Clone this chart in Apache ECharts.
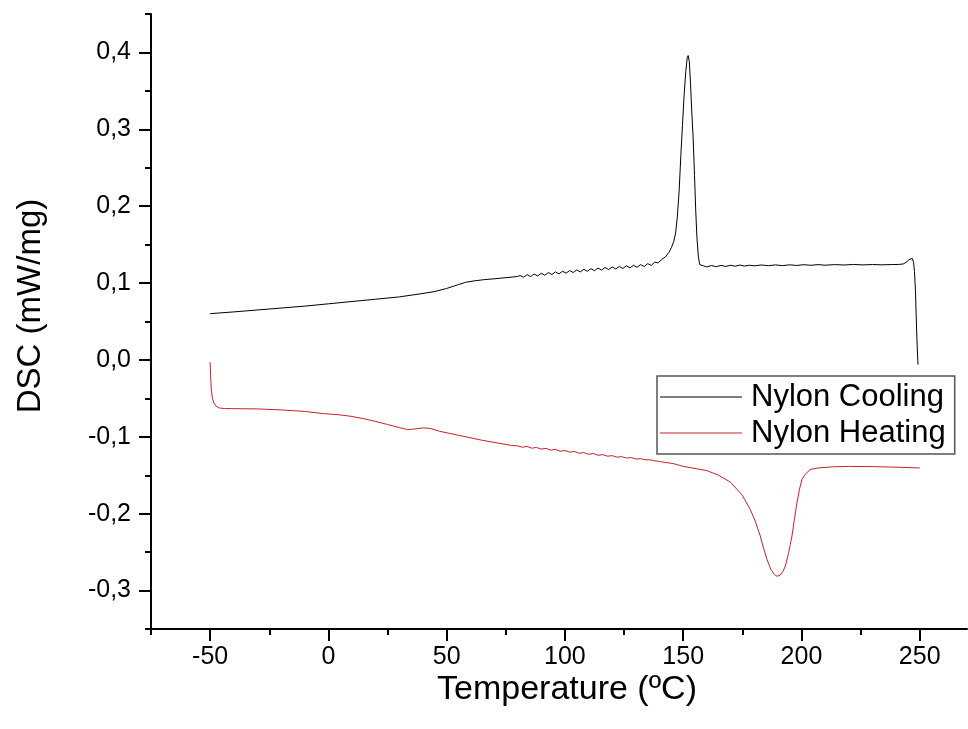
<!DOCTYPE html>
<html>
<head>
<meta charset="utf-8">
<title>Nylon DSC</title>
<script src="https://cdn.jsdelivr.net/npm/echarts@6/dist/echarts.min.js"></script>
<style>
  html, body { margin: 0; padding: 0; background: #fff; }
  #chart { width: 968px; height: 729px; }
</style>
</head>
<body>
<div id="chart"></div>
<script>
// Cooling run: temperature (°C) and heat flow (mW/mg)
const coolingT = [
  -50, -40, -30, -20, -10, 0, 10, 20, 30, 40, 45, 50, 55, 58, 62, 66, 70, 75, 80,
  81, 82.5, 84, 85.5, 87, 88.5, 90, 91.5, 93, 94.5, 96, 97.5, 99, 100.5, 102, 103.5,
  105, 106.5, 108, 109.5, 111, 112.5, 114, 115.5, 117, 118.5, 120, 121.5, 123, 124.5,
  126, 127.5, 129, 130.5, 132, 133.5, 135, 136.5, 138, 139.5, 141, 142.5, 144, 145,
  146, 146.8, 147.5, 148.3, 149, 149.7, 150.4, 151.1, 151.7, 152.1, 152.6, 153.1,
  153.6, 154.2, 154.8, 155.3, 155.8, 156.4, 157, 157.6, 158.5,
  160, 162, 164, 166, 168, 170, 172, 174, 176, 178, 180, 183, 186, 189, 192, 195,
  198, 201, 204, 207, 210, 214, 218, 222, 226, 230, 234, 238, 241, 243,
  244.5, 245.5, 246.3, 246.9, 247.4, 247.8, 248.2, 248.5, 248.8, 249.1, 249.3
];
const coolingDSC = [
  0.0602, 0.0625, 0.0650, 0.0675, 0.0700, 0.0730, 0.0760, 0.0790, 0.0820, 0.0865, 0.0890, 0.0930, 0.0980, 0.1010, 0.1030, 0.1045, 0.1055, 0.1070, 0.1085,
  0.1098, 0.1075, 0.1109, 0.1084, 0.1118, 0.1093, 0.1127, 0.1102, 0.1136, 0.1111, 0.1145, 0.1120, 0.1154, 0.1129, 0.1163, 0.1137,
  0.1171, 0.1145, 0.1179, 0.1153, 0.1187, 0.1161, 0.1195, 0.1169, 0.1203, 0.1176, 0.1210, 0.1183, 0.1217, 0.1190,
  0.1224, 0.1197, 0.1231, 0.1205, 0.1240, 0.1215, 0.1252, 0.1230, 0.1272, 0.1262, 0.1310, 0.1340, 0.1400, 0.1460,
  0.1540, 0.1650, 0.1850, 0.2200, 0.2650, 0.3050, 0.3450, 0.3750, 0.3930, 0.3960, 0.3880, 0.3600,
  0.3250, 0.2900, 0.2400, 0.1950, 0.1600, 0.1350, 0.1240, 0.1215, 0.1225,
  0.1210, 0.1228, 0.1213, 0.1230, 0.1216, 0.1232, 0.1219, 0.1234, 0.1221, 0.1232, 0.1224, 0.1235, 0.1226, 0.1236, 0.1227, 0.1237,
  0.1229, 0.1239, 0.1231, 0.1240, 0.1232, 0.1240, 0.1235, 0.1242, 0.1236, 0.1241, 0.1237, 0.1241, 0.1242, 0.1248,
  0.1275, 0.1305, 0.1325, 0.1320, 0.1270, 0.1150, 0.0900, 0.0600, 0.0300, 0.0050, -0.0060
];

// Heating run: temperature (°C) and heat flow (mW/mg)
const heatingT = [
  -50, -49.8, -49.5, -49, -48.4, -47.5, -46.3, -44, -40, -30, -20, -10, -2, 5, 10, 15, 20, 25, 30,
  33.5, 36, 40, 43, 47, 55, 65, 77,
  80, 82, 84, 86, 88, 90, 92, 94, 96, 98, 100, 102, 104, 106, 108, 110, 112, 114, 116, 118, 120,
  122, 124, 126, 128, 130, 132, 134, 136, 138, 140, 142, 144, 146, 150, 156, 160, 165, 170, 175,
  178.4, 180.5, 182.6, 184, 185.5, 187, 188.5, 189.7, 191, 192.2, 193.2, 194.5, 195.3, 196, 197,
  198.1, 199.2, 200.2, 201.5, 203.7, 207, 213.6, 220, 230, 240, 245, 248.8, 250
];
const heatingDSC = [
  -0.0030, -0.0200, -0.0386, -0.0500, -0.0560, -0.0600, -0.0624, -0.0632, -0.0634, -0.0637, -0.0650, -0.0670, -0.0698, -0.0715, -0.0735, -0.0765, -0.0800, -0.0840, -0.0880,
  -0.0906, -0.0900, -0.0884, -0.0890, -0.0928, -0.0980, -0.1045, -0.1110,
  -0.1118, -0.1135, -0.1125, -0.1148, -0.1138, -0.1160, -0.1150, -0.1175, -0.1163, -0.1188, -0.1178, -0.1200, -0.1190, -0.1215, -0.1205, -0.1228, -0.1218, -0.1240, -0.1232, -0.1252, -0.1245,
  -0.1265, -0.1258, -0.1276, -0.1270, -0.1288, -0.1285, -0.1298, -0.1300, -0.1312, -0.1320, -0.1332, -0.1340, -0.1350, -0.1385, -0.1417, -0.1440, -0.1500, -0.1590, -0.1760,
  -0.1947, -0.2100, -0.2290, -0.2450, -0.2600, -0.2720, -0.2790, -0.2814, -0.2800, -0.2750, -0.2680, -0.2520, -0.2400, -0.2290, -0.2080,
  -0.1860, -0.1680, -0.1557, -0.1490, -0.1426, -0.1405, -0.1390, -0.1385, -0.1388, -0.1395, -0.1400, -0.1404, -0.1405
];

// Axis tick positions
const xMajorTicks = [-50, 0, 50, 100, 150, 200, 250];
const xMinorTicks = [-75, -25, 25, 75, 125, 175, 225];
const yMajorTicks = [-0.3, -0.2, -0.1, 0, 0.1, 0.2, 0.3, 0.4];
const yMinorTicks = [-0.35, -0.25, -0.15, -0.05, 0.05, 0.15, 0.25, 0.35, 0.45];

const seriesNames = ['Nylon Cooling', 'Nylon Heating'];
const seriesColors = ['#000000', '#c8202c'];
const xTitle = 'Temperature (ºC)';
const yTitle = 'DSC (mW/mg)';

const FONT = '"Liberation Sans", Arial, sans-serif';

function pairs(xs, ys) {
  return xs.map((x, i) => [x, ys[i]]);
}

const chart = echarts.init(document.getElementById('chart'), null, { renderer: 'canvas' });

const xRange = { min: -75, max: 270 };
const yRange = { min: -0.35, max: 0.45 };
const tickStyle = { color: '#000', width: 2 };

chart.setOption({
  animation: false,
  backgroundColor: '#ffffff',
  grid: { left: 151, top: 14, right: 1, bottom: 100, containLabel: false },
  xAxis: [
    {
      type: 'value', min: xRange.min, max: xRange.max,
      axisLine: { show: true, onZero: false, lineStyle: tickStyle },
      axisTick: { show: true, inside: false, length: 12, customValues: xMajorTicks, lineStyle: tickStyle },
      axisLabel: { show: true, customValues: xMajorTicks, margin: 16, color: '#000', fontSize: 25, fontFamily: FONT },
      splitLine: { show: false }
    },
    {
      type: 'value', min: xRange.min, max: xRange.max, position: 'bottom',
      axisLine: { show: false, onZero: false },
      axisTick: { show: true, inside: false, length: 6, customValues: xMinorTicks, lineStyle: tickStyle },
      axisLabel: { show: false },
      splitLine: { show: false }
    }
  ],
  yAxis: [
    {
      type: 'value', min: yRange.min, max: yRange.max,
      axisLine: { show: true, onZero: false, lineStyle: tickStyle },
      axisTick: { show: true, inside: false, length: 12, customValues: yMajorTicks, lineStyle: tickStyle },
      axisLabel: {
        show: true, customValues: yMajorTicks, margin: 20, color: '#000', fontSize: 25, fontFamily: FONT,
        formatter: v => v.toFixed(1).replace('.', ',')
      },
      splitLine: { show: false }
    },
    {
      type: 'value', min: yRange.min, max: yRange.max, position: 'left',
      axisLine: { show: false, onZero: false },
      axisTick: { show: true, inside: false, length: 6, customValues: yMinorTicks, lineStyle: tickStyle },
      axisLabel: { show: false },
      splitLine: { show: false }
    }
  ],
  legend: {
    orient: 'vertical',
    left: 657, top: 376,
    padding: [4, 9, 4, 3],
    icon: 'rect',
    itemWidth: 82, itemHeight: 1, itemGap: 2,
    borderColor: '#555', borderWidth: 1.5,
    textStyle: { color: '#000', fontSize: 31, fontFamily: FONT, lineHeight: 34, padding: [0, 0, 0, 4] },
    data: seriesNames
  },
  graphic: [
    {
      type: 'text', x: 567, y: 690,
      style: { text: xTitle, fontSize: 34, fontFamily: FONT, fill: '#000', align: 'center', verticalAlign: 'middle' }
    },
    {
      type: 'text', x: 31, y: 306, rotation: Math.PI / 2,
      style: { text: yTitle, fontSize: 33, fontFamily: FONT, fill: '#000', align: 'center', verticalAlign: 'middle' }
    }
  ],
  series: [
    {
      name: seriesNames[0], type: 'line', xAxisIndex: 0, yAxisIndex: 0,
      data: pairs(coolingT, coolingDSC),
      symbol: 'none', smooth: false,
      lineStyle: { color: seriesColors[0], width: 1 }, itemStyle: { color: seriesColors[0] }
    },
    {
      name: seriesNames[1], type: 'line', xAxisIndex: 0, yAxisIndex: 0,
      data: pairs(heatingT, heatingDSC),
      symbol: 'none', smooth: false,
      lineStyle: { color: seriesColors[1], width: 1 }, itemStyle: { color: seriesColors[1] }
    }
  ]
});
</script>
</body>
</html>
